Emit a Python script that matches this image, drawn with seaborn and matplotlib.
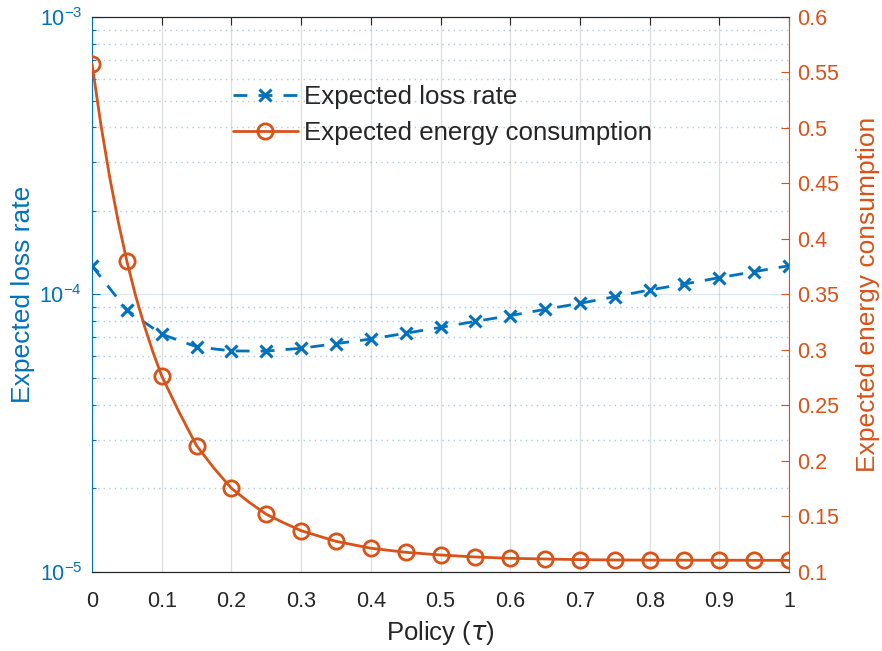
import matplotlib
matplotlib.use("Agg")
import matplotlib.pyplot as plt
from matplotlib.lines import Line2D
from matplotlib.ticker import (LogLocator, NullFormatter, FormatStrFormatter,
                               MultipleLocator)
import seaborn as sns

# values
tau = [0.0, 0.05, 0.1, 0.15, 0.2, 0.25, 0.3, 0.35, 0.4, 0.45, 0.5,
       0.55, 0.6, 0.65, 0.7, 0.75, 0.8, 0.85, 0.9, 0.95, 1.0]
loss_rate = [1.267e-4, 8.79e-5, 7.19e-5, 6.48e-5, 6.26e-5, 6.25e-5, 6.40e-5,
             6.65e-5, 6.91e-5, 7.25e-5, 7.61e-5, 8.00e-5, 8.39e-5, 8.84e-5,
             9.29e-5, 9.82e-5, 1.038e-4, 1.091e-4, 1.150e-4, 1.208e-4, 1.27e-4]
energy = [0.558, 0.380, 0.2766, 0.2138, 0.1754, 0.152, 0.1372, 0.1276,
          0.1214, 0.1177, 0.1153, 0.1135, 0.1123, 0.1117, 0.1111, 0.1108,
          0.1107, 0.1106, 0.1106, 0.1105, 0.1105]
# extra points on the smooth energy curve (between markers)
tau_mid = [0.0125, 0.025, 0.0375, 0.0625, 0.075, 0.0875, 0.125, 0.175,
           0.225, 0.275]
energy_mid = [0.504, 0.457, 0.416, 0.349, 0.322, 0.298, 0.244, 0.1935,
              0.163, 0.1443]

labels = ["Expected loss rate", "Expected energy consumption"]

blue = "#0072BD"
orange = "#D95319"
dark = "#262626"

sns.set_style("white")
plt.rcParams["font.family"] = ["Liberation Sans", "DejaVu Sans"]
plt.rcParams["mathtext.fontset"] = "dejavusans"

fig = plt.figure(figsize=(8.82, 6.51), dpi=100)
ax1 = fig.add_axes([0.1043, 0.1214, 0.7903, 0.8525])
ax2 = ax1.twinx()

dash = (0, (5, 4))
sns.lineplot(x=tau, y=loss_rate, ax=ax1, color=blue, lw=2, linestyle=dash,
             marker="x", markersize=8, markeredgewidth=2.2,
             markeredgecolor=blue)

curve = sorted(zip(tau + tau_mid, energy + energy_mid))
sns.lineplot(x=[c[0] for c in curve], y=[c[1] for c in curve], ax=ax2,
             color=orange, lw=2)
sns.lineplot(x=tau, y=energy, ax=ax2, color=orange, linestyle="none",
             marker="o", markersize=11, markerfacecolor="none",
             markeredgewidth=2, markeredgecolor=orange)

# left (log) axis
ax1.set_yscale("log")
ax1.set_ylim(1e-5, 1e-3)
ax1.set_xlim(0, 1)
ax1.yaxis.set_major_locator(LogLocator(base=10, numticks=5))
ax1.yaxis.set_minor_locator(LogLocator(base=10, subs=range(2, 10), numticks=20))
ax1.yaxis.set_minor_formatter(NullFormatter())
ax1.xaxis.set_major_locator(MultipleLocator(0.1))
ax1.xaxis.set_major_formatter(FormatStrFormatter("%g"))
ax1.tick_params(axis="x", direction="in", top=True, length=6, width=0.8,
                colors=dark, labelsize=15.5, pad=14)
ax1.tick_params(axis="y", which="major", direction="in", length=6, width=0.8,
                colors=blue, labelsize=15.5, pad=7)
ax1.tick_params(axis="y", which="minor", direction="in", length=3, width=0.8,
                colors=blue)

# right axis
ax2.set_ylim(0.1, 0.6)
ax2.yaxis.set_major_locator(MultipleLocator(0.05))
ax2.yaxis.set_major_formatter(FormatStrFormatter("%g"))
ax2.tick_params(axis="y", direction="in", length=6, width=0.8, colors=orange,
                labelsize=15.5, pad=6)

# grids
ax1.set_axisbelow(True)
ax1.grid(axis="x", which="major", color=dark, alpha=0.15, lw=0.9, ls="-")
ax1.grid(axis="y", which="major", color=blue, alpha=0.15, lw=0.9, ls="-")
ax1.grid(axis="y", which="minor", color=blue, alpha=0.35, lw=1.0,
         ls=(0, (1, 3)))

# spines
for ax in (ax1, ax2):
    ax.spines["top"].set_color(dark)
    ax.spines["bottom"].set_color(dark)
    ax.spines["top"].set_linewidth(0.8)
    ax.spines["bottom"].set_linewidth(0.8)
ax1.spines["left"].set_color(blue)
ax1.spines["right"].set_visible(False)
ax2.spines["left"].set_visible(False)
ax2.spines["right"].set_color(orange)
ax1.spines["left"].set_linewidth(0.8)
ax2.spines["right"].set_linewidth(0.8)

ax1.set_xlabel("Policy ($\\tau$)", fontsize=18.5, color=dark, labelpad=5)
ax1.set_ylabel(labels[0], fontsize=19, color=blue, labelpad=3)
ax2.set_ylabel(labels[1], fontsize=19, color=orange, labelpad=12)

handles = [
    Line2D([], [], color=blue, lw=2, linestyle=dash, marker="x",
           markersize=8, markeredgewidth=2.2),
    Line2D([], [], color=orange, lw=2, marker="o", markersize=11,
           markerfacecolor="none", markeredgewidth=2),
]
ax2.legend(handles, labels, loc="upper left",
           bbox_to_anchor=(233 / 882, 1 - 85 / 651),
           bbox_transform=fig.transFigure, frameon=False, fontsize=18.6,
           handlelength=2.5, handletextpad=0.25, labelspacing=0.45,
           borderpad=0, borderaxespad=0, numpoints=1)

fig.savefig("out.png", dpi=100)
